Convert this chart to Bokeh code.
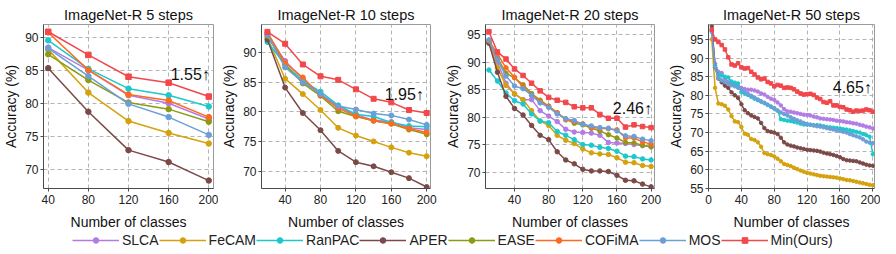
from bokeh.plotting import figure
from bokeh.layouts import row, column
from bokeh.models import Range1d, FixedTicker, Label, Legend, LegendItem
from bokeh.embed import file_html
from bokeh.resources import INLINE

# ---------------- data ----------------
methods = ["SLCA", "FeCAM", "RanPAC", "APER", "EASE", "COFiMA", "MOS", "Min(Ours)"]
colors = ["#b27ce6", "#d5a10c", "#1cc8cc", "#7b4a48", "#8d9a12", "#ff6a1e", "#6b9fd8", "#f2474b"]

titles = ["ImageNet-R 5 steps", "ImageNet-R 10 steps", "ImageNet-R 20 steps", "ImageNet-R 50 steps"]
gains = ["1.55\u2191", "1.95\u2191", "2.46\u2191", "4.65\u2191"]

x5 = [40, 80, 120, 160, 200]
x10 = [20, 40, 60, 80, 100, 120, 140, 160, 180, 200]
x20 = list(range(10, 201, 10))
x50 = list(range(4, 201, 4))

# 5 steps
s5_slca = [88.4, 85.0, 81.2, 80.0, 77.6]
s5_fecam = [88.1, 81.6, 77.3, 75.5, 73.9]
s5_ranpac = [89.5, 85.2, 82.2, 81.2, 79.5]
s5_aper = [85.3, 78.7, 72.9, 71.1, 68.3]
s5_ease = [87.4, 83.5, 80.1, 79.1, 77.2]
s5_cofima = [90.7, 85.0, 81.3, 80.4, 77.9]
s5_mos = [88.3, 84.1, 79.9, 77.9, 75.2]
s5_min = [90.8, 87.3, 84.0, 83.1, 81.0]

# 10 steps
s10_slca = [93.0, 88.6, 85.5, 82.8, 80.9, 79.5, 78.6, 78.3, 77.3, 77.0]
s10_fecam = [92.5, 85.6, 83.0, 80.3, 77.3, 76.0, 75.0, 74.0, 73.1, 72.5]
s10_ranpac = [91.8, 88.0, 85.2, 83.4, 81.1, 79.6, 79.2, 78.2, 77.6, 77.5]
s10_aper = [92.2, 84.1, 79.8, 76.9, 73.4, 71.5, 70.8, 69.8, 68.8, 67.3]
s10_ease = [92.8, 88.0, 84.8, 82.7, 80.1, 79.2, 78.5, 78.0, 77.0, 76.2]
s10_cofima = [93.4, 88.3, 85.8, 82.8, 80.6, 79.3, 78.5, 78.0, 77.2, 76.5]
s10_mos = [93.0, 87.5, 85.0, 83.0, 81.0, 80.4, 79.7, 79.4, 78.7, 77.8]
s10_min = [93.5, 91.5, 88.0, 86.0, 85.4, 83.8, 82.2, 81.6, 80.3, 79.8]

# 20 steps
s20_slca = [93.7, 90.0, 86.2, 84.2, 83.2, 83.2, 81.2, 80.2, 79.2, 77.8,
            77.3, 77.2, 77.1, 76.7, 75.4, 75.3, 75.2, 75.0, 74.8, 74.6]
s20_fecam = [93.5, 89.0, 85.8, 84.3, 83.2, 81.2, 79.3, 78.5, 76.7, 75.8,
             75.2, 74.2, 73.5, 73.3, 73.2, 72.6, 71.8, 71.7, 71.2, 71.0]
s20_ranpac = [88.6, 86.6, 84.4, 83.0, 82.4, 80.6, 79.3, 79.0, 77.4, 76.7,
              75.9, 75.0, 74.9, 74.5, 74.3, 73.8, 72.9, 72.8, 72.4, 72.2]
s20_aper = [93.5, 88.2, 83.8, 81.6, 80.4, 78.5, 76.7, 75.9, 73.7, 72.2,
            71.5, 70.5, 70.2, 70.2, 70.1, 69.4, 68.5, 68.4, 67.8, 67.3]
s20_ease = [93.9, 90.8, 88.0, 87.2, 85.9, 84.3, 83.1, 82.0, 80.8, 79.7,
            78.9, 78.6, 78.0, 77.5, 76.8, 76.2, 75.4, 75.3, 74.9, 74.6]
s20_cofima = [94.0, 91.5, 89.0, 87.3, 85.5, 84.0, 82.9, 82.0, 80.8, 79.5,
              79.2, 78.8, 78.1, 78.0, 77.9, 77.7, 76.2, 76.2, 75.5, 75.1]
s20_mos = [94.1, 90.5, 87.5, 85.7, 85.2, 84.0, 82.6, 81.8, 80.6, 79.7,
           79.4, 78.7, 78.4, 78.1, 78.0, 77.5, 76.6, 76.5, 76.0, 75.7]
s20_min = [95.6, 91.9, 90.6, 88.8, 87.6, 86.2, 84.8, 83.6, 83.1, 82.7,
           81.9, 81.7, 81.7, 80.5, 79.8, 79.8, 78.2, 78.6, 78.3, 78.1]

# 50 steps (EASE and COFiMA not reported)
s50_slca = [97.5, 88.5, 86.3, 86.0, 84.6, 83.6, 83.2, 83.0, 82.4, 82.0,
            81.7, 81.5, 81.5, 81.3, 81.0, 80.5, 80.2, 79.6, 79.1, 78.8,
            78.1, 77.3, 76.3, 75.7, 75.6, 75.4, 75.2, 75.0, 74.8, 74.7,
            74.6, 74.3, 74.1, 73.8, 73.7, 73.6, 73.5, 73.4, 73.2, 73.1,
            73.0, 72.8, 72.7, 72.5, 72.4, 72.1, 71.9, 71.6, 71.4, 71.1]
s50_fecam = [95.0, 82.0, 77.8, 77.6, 77.2, 76.2, 74.4, 73.0, 72.8, 71.5,
             69.7, 69.4, 68.3, 68.0, 67.4, 66.2, 64.5, 64.2, 64.0, 63.6,
             63.0, 62.3, 61.6, 61.3, 61.0, 60.6, 60.2, 59.8, 59.5, 59.2,
             59.0, 58.8, 58.6, 58.4, 58.3, 58.2, 58.1, 58.0, 57.9, 57.7,
             57.5, 57.3, 57.2, 57.0, 56.8, 56.6, 56.4, 56.2, 56.0, 55.9]
s50_ranpac = [97.3, 88.0, 85.6, 85.3, 85.0, 84.8, 83.7, 83.4, 83.2, 80.8,
              80.5, 80.1, 79.6, 79.1, 78.7, 78.3, 77.9, 77.4, 76.9, 76.6,
              75.9, 73.6, 73.4, 73.2, 73.1, 72.9, 72.7, 72.4, 72.2, 72.1,
              72.1, 72.0, 72.0, 71.9, 71.7, 71.5, 71.4, 71.3, 71.2, 71.1,
              70.9, 70.8, 70.6, 70.4, 70.2, 70.0, 69.6, 69.3, 68.9, 64.2]
s50_aper = [98.5, 87.5, 84.5, 83.5, 82.6, 82.0, 80.8, 80.0, 79.3, 77.6,
            76.0, 75.2, 74.6, 74.2, 73.8, 72.6, 71.2, 70.4, 70.2, 70.0,
            69.6, 68.6, 67.4, 66.8, 66.5, 66.3, 66.0, 65.8, 65.6, 65.4,
            65.3, 65.2, 65.1, 64.9, 64.6, 64.4, 64.2, 64.0, 63.7, 63.4,
            62.9, 62.6, 62.5, 62.4, 62.3, 62.0, 61.7, 61.4, 61.2, 61.1]
s50_mos = [97.0, 87.5, 84.6, 84.0, 83.6, 83.1, 82.7, 82.4, 82.0, 81.6,
           80.9, 80.4, 79.9, 79.4, 78.9, 78.4, 78.0, 77.5, 77.0, 76.4,
           75.9, 75.4, 75.0, 74.6, 74.1, 73.7, 73.3, 73.0, 72.6, 72.3,
           72.1, 71.9, 71.7, 71.6, 71.4, 71.2, 71.0, 70.8, 70.6, 70.4,
           70.2, 70.0, 69.6, 69.3, 69.0, 68.7, 68.2, 67.6, 67.3, 67.2]
s50_min = [97.6, 95.0, 94.3, 93.5, 92.3, 90.2, 88.3, 88.0, 88.6, 87.5,
           87.2, 87.3, 86.3, 85.6, 84.8, 84.3, 84.5, 83.6, 83.2, 82.4,
           82.8, 82.6, 82.0, 82.1, 82.0, 81.6, 81.0, 80.5, 80.2, 80.3,
           80.4, 80.1, 79.4, 79.0, 78.2, 78.0, 78.4, 77.3, 77.3, 76.9,
           76.8, 76.2, 76.0, 75.6, 75.9, 75.8, 75.9, 76.2, 76.0, 75.6]

xt5 = [40, 80, 120, 160, 200]
xt10 = [40, 80, 120, 160, 200]
xt20 = [40, 80, 120, 160, 200]
xt50 = [0, 40, 80, 120, 160, 200]
yt5 = [70, 75, 80, 85, 90]
yt10 = [70, 75, 80, 85, 90]
yt20 = [70, 75, 80, 85, 90, 95]
yt50 = [55, 60, 65, 70, 75, 80, 85, 90, 95]

FONT = "Liberation Sans"

s5_all = [s5_slca, s5_fecam, s5_ranpac, s5_aper, s5_ease, s5_cofima, s5_mos, s5_min]

panels = [
    dict(x=x5, series=s5_all,
         xr=(35.3, 204.7), yr=(67.1, 91.9), xt=xt5, yt=yt5, w=218, bl=33, br=5, ms=5.5,
         lab=(201, 84.3)),
    dict(x=x10, series=[s10_slca, s10_fecam, s10_ranpac, s10_aper, s10_ease, s10_cofima, s10_mos, s10_min],
         xr=(13.3, 204.3), yr=(67.05, 94.75), xt=xt10, yt=yt10, w=224, bl=34, br=12, ms=5,
         lab=(196.8, 83.0)),
    dict(x=x20, series=[s20_slca, s20_fecam, s20_ranpac, s20_aper, s20_ease, s20_cofima, s20_mos, s20_min],
         xr=(6.0, 204.0), yr=(67.0, 96.9), xt=xt20, yt=yt20, w=223, bl=35, br=11, ms=4.5,
         lab=(201, 81.5)),
    dict(x=x50, series=[s50_slca, s50_fecam, s50_ranpac, s50_aper, None, None, s50_mos, s50_min],
         xr=(0.0, 202.0), yr=(55.0, 99.0), xt=xt50, yt=yt50, w=215, bl=36, br=6, ms=3.5,
         lab=(198.8, 82.0)),
]

figs = []
for i, pd_ in enumerate(panels):
    p = figure(width=pd_["w"], height=232, output_backend="svg", toolbar_location=None,
               x_range=Range1d(*pd_["xr"]), y_range=Range1d(*pd_["yr"]),
               min_border_left=pd_["bl"], min_border_right=pd_["br"],
               min_border_top=24, min_border_bottom=39, title=titles[i])
    p.title.text_font = FONT
    p.title.text_font_size = "14.5px"
    p.title.text_font_style = "normal"
    p.title.align = "center"
    p.title.standoff = 4
    p.title.text_color = "#111111"

    p.xaxis.ticker = FixedTicker(ticks=pd_["xt"])
    p.yaxis.ticker = FixedTicker(ticks=pd_["yt"])
    p.xaxis.axis_label = "Number of classes"
    p.yaxis.axis_label = "Accuracy (%)"
    for ax in (p.xaxis[0], p.yaxis[0]):
        ax.axis_line_color = "#4a4a4a"
        ax.major_tick_line_color = "#4a4a4a"
        ax.major_tick_out = 3
        ax.major_tick_in = 0
        ax.minor_tick_line_color = None
        ax.major_label_text_font = FONT
        ax.major_label_text_font_size = "12px"
        ax.major_label_text_color = "#222222"
        ax.major_label_standoff = 2
        ax.axis_label_text_font = FONT
        ax.axis_label_text_font_size = "14px"
        ax.axis_label_text_font_style = "normal"
        ax.axis_label_text_color = "#111111"
        ax.axis_label_standoff = 3
    p.xaxis.major_label_standoff = 3
    p.xaxis.axis_label_standoff = 7
    p.grid.grid_line_color = "#b4b4b4"
    p.grid.grid_line_dash = "4 3"
    p.grid.grid_line_width = 1
    p.outline_line_color = "#9a9a9a"
    p.outline_line_width = 1

    for k, ys in enumerate(pd_["series"]):
        if ys is None:
            continue
        p.line(pd_["x"], ys, line_color=colors[k], line_width=1.5)
        marker = "square" if k == 7 else "circle"
        p.scatter(pd_["x"], ys, marker=marker, size=pd_["ms"], fill_color=colors[k],
                  line_color=colors[k])

    lx, ly = pd_["lab"]
    p.add_layout(Label(x=lx, y=ly, text=gains[i], text_font=FONT, text_font_size="16px",
                       text_align="right", text_baseline="alphabetic", text_color="#111111"))
    figs.append(p)

# legend strip: its renderers hold the 5-step data, which lies outside this strip's ranges
lg = figure(width=880, height=20, output_backend="svg", toolbar_location=None,
            x_range=Range1d(0, 1), y_range=Range1d(0, 1), min_border=0,
            x_axis_location=None, y_axis_location=None, outline_line_color=None)
lg.grid.visible = False
items = []
for k, name in enumerate(methods):
    r1 = lg.line(x5, s5_all[k], line_color=colors[k], line_width=1.5)
    r2 = lg.scatter(x5, s5_all[k], marker="square" if k == 7 else "circle", size=6,
                    fill_color=colors[k], line_color=colors[k])
    items.append(LegendItem(label=name, renderers=[r1, r2]))
legend = Legend(items=items, orientation="horizontal", location=(72, 4),
                glyph_width=47, glyph_height=14, label_height=14, label_standoff=3,
                spacing=0, padding=0, margin=0, border_line_color=None,
                background_fill_alpha=0, label_text_font=FONT, label_text_font_size="14px",
                label_text_color="#222222")
lg.add_layout(legend, "center")

layout = column(row(*figs, spacing=0), lg, spacing=0)
open("out.html", "w").write(file_html(layout, INLINE))
